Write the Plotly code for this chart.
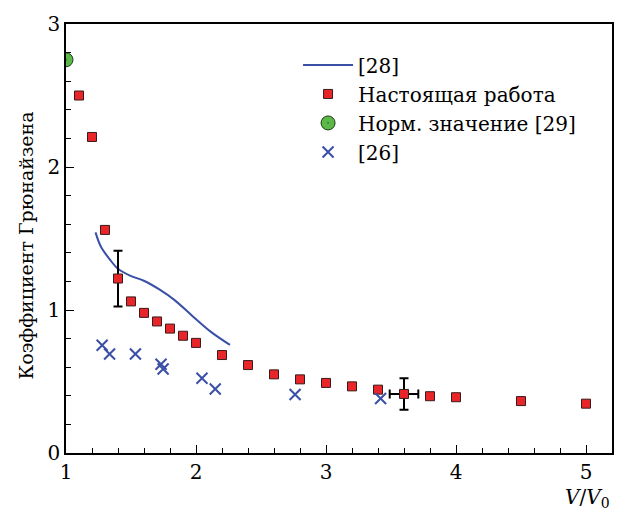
import plotly.graph_objects as go

# Present work: V/V0 and Grüneisen coefficient
x_work = [1.1, 1.2, 1.3, 1.4, 1.5, 1.6, 1.7, 1.8, 1.9, 2.0, 2.2, 2.4, 2.6, 2.8,
          3.0, 3.2, 3.4, 3.6, 3.8, 4.0, 4.5, 5.0]
y_work = [2.50, 2.21, 1.56, 1.22, 1.06, 0.98, 0.92, 0.87, 0.82, 0.77, 0.685, 0.615,
          0.55, 0.515, 0.49, 0.466, 0.443, 0.413, 0.397, 0.39, 0.363, 0.345]

# Error bars on two points of the present work
err_idx = [3, 17]
err_y_plus = [0.195, 0.11]
err_y_minus = [0.195, 0.11]
err_x = [0.0, 0.11]

# Normal value [29]
x_norm = [1.0]
y_norm = [2.75]

# Reference [26]
x_26 = [1.278, 1.335, 1.534, 1.731, 1.747, 2.046, 2.148, 2.762, 3.42]
y_26 = [0.753, 0.692, 0.692, 0.621, 0.587, 0.523, 0.447, 0.409, 0.381]

# Reference [28] curve
x_28 = [1.227, 1.27, 1.335, 1.40, 1.488, 1.603, 1.718, 1.833, 1.974, 2.115, 2.261]
y_28 = [1.543, 1.44, 1.356, 1.288, 1.242, 1.203, 1.144, 1.071, 0.957, 0.847, 0.756]

FONT = "DejaVu Serif"
RED = "#e8262a"
GREEN = "#5bb947"
BLUE = "#3a4fa6"

fig = go.Figure()

fig.add_trace(go.Scatter(
    x=x_28, y=y_28, mode="lines", name="[28]",
    line=dict(color=BLUE, width=2, shape="spline", smoothing=1.0),
    legendgroup="a",
))

# error bars drawn underneath the squares
fig.add_trace(go.Scatter(
    x=[x_work[i] for i in err_idx], y=[y_work[i] for i in err_idx],
    mode="markers", marker=dict(size=1, color="rgba(0,0,0,0)"),
    error_y=dict(type="data", symmetric=False, array=err_y_plus, arrayminus=err_y_minus,
                 color="black", thickness=2, width=4.5),
    error_x=dict(type="data", array=err_x, color="black", thickness=2, width=4.5),
    showlegend=False, hoverinfo="skip",
))

fig.add_trace(go.Scatter(
    x=x_work, y=y_work, mode="markers", name="Настоящая работа",
    marker=dict(symbol="square", size=9, color=RED, line=dict(color="#3a1a1a", width=1)),
    legendgroup="b",
))

fig.add_trace(go.Scatter(
    x=x_norm, y=y_norm, mode="markers", name="Норм. значение [29]",
    marker=dict(symbol="circle-dot", size=14, color=GREEN, line=dict(color="#1d3a14", width=1)),
    legendgroup="c", cliponaxis=True,
))

fig.add_trace(go.Scatter(
    x=x_26, y=y_26, mode="markers", name="[26]",
    marker=dict(symbol="x-thin", size=11, color=BLUE, line=dict(color=BLUE, width=2)),
    legendgroup="d",
))

axis_common = dict(
    showline=True, linecolor="black", linewidth=1.5, mirror=True,
    ticks="inside", ticklen=8, tickwidth=1.3, tickcolor="black",
    showgrid=False, zeroline=False,
    tickfont=dict(family=FONT, size=20, color="black"),
)

fig.update_xaxes(
    range=[1, 5.2], dtick=1, tick0=1,
    minor=dict(dtick=0.2, tick0=1, ticks="inside", ticklen=5, tickcolor="black", tickwidth=1),
    **axis_common,
)
fig.update_yaxes(
    range=[0, 3], dtick=1, tick0=0,
    minor=dict(dtick=0.2, tick0=0, ticks="inside", ticklen=5, tickcolor="black", tickwidth=1),
    **axis_common,
)

# y-axis caption
fig.add_annotation(
    x=0, y=0.5, xref="paper", yref="paper", xanchor="center", yanchor="middle",
    xshift=-41, yshift=-7, textangle=-90, showarrow=False,
    text="Коэффициент Грюнайзена",
    font=dict(family=FONT, size=19, color="black"),
)

# x-axis caption
fig.add_annotation(
    x=1, y=0, xref="paper", yref="paper", xanchor="right", yanchor="top",
    yshift=-30, xshift=0, showarrow=False,
    text="<i>V</i>/<i>V</i><sub>0</sub>",
    font=dict(family=FONT, size=20, color="black"),
)

fig.update_layout(
    width=626, height=513,
    margin=dict(l=66, r=13, t=15, b=60),
    paper_bgcolor="white", plot_bgcolor="white",
    font=dict(family=FONT, color="black"),
    legend=dict(
        x=0.425, y=0.95, xanchor="left", yanchor="top",
        font=dict(family=FONT, size=20, color="black"),
        bgcolor="rgba(0,0,0,0)", itemwidth=50,
        traceorder="grouped", tracegroupgap=0,
    ),
)

fig.write_html("out.html")
